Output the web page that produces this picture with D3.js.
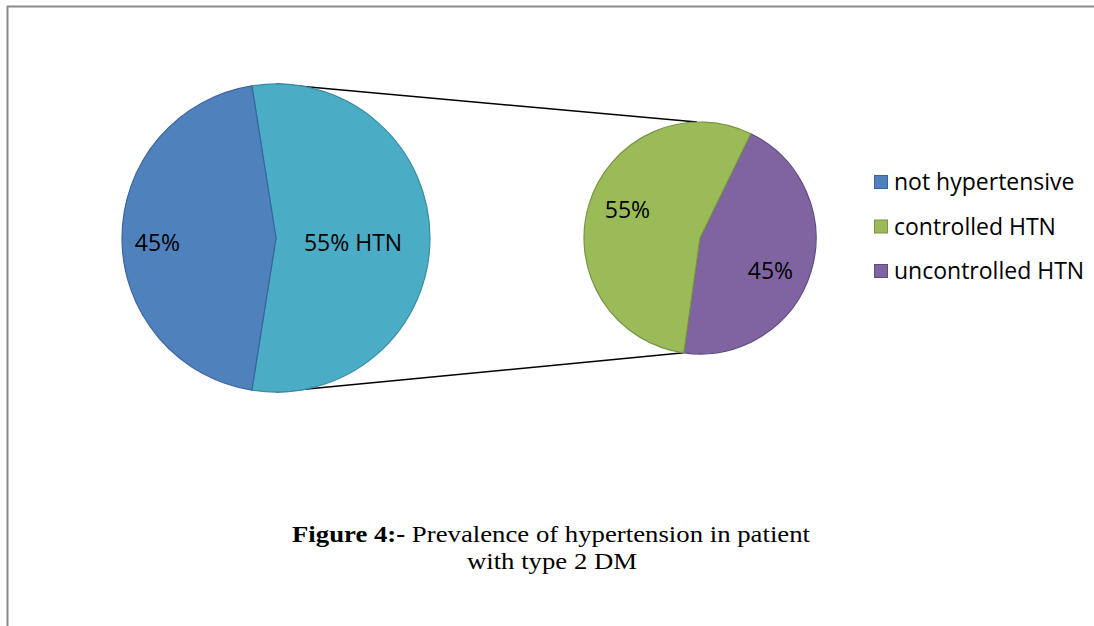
<!DOCTYPE html>
<html>
<head>
<meta charset="utf-8">
<script src="https://cdn.jsdelivr.net/npm/d3@7"></script>
<style>
  html, body { margin: 0; padding: 0; background: #fff; }
  svg { display: block; }
</style>
</head>
<body>
<svg id="chart" width="1094" height="626"></svg>
<script>
// Primary pie: share of patients with / without hypertension
const primaryLabels = ["HTN", "not hypertensive"];
const primaryValues = [55, 45];
const primaryText = ["55% HTN", "45%"];

// Secondary pie: breakdown of the hypertensive group
const secondaryLabels = ["uncontrolled HTN", "controlled HTN"];
const secondaryValues = [45, 55];
const secondaryText = ["45%", "55%"];

// Legend entries
const legendLabels = ["not hypertensive", "controlled HTN", "uncontrolled HTN"];

const colors = {
  "not hypertensive": "#4F81BD",
  "HTN": "#4BACC6",
  "controlled HTN": "#9BBB59",
  "uncontrolled HTN": "#8064A2"
};
const strokes = {
  "not hypertensive": "#3A64A0",
  "HTN": "#3A8CA4",
  "controlled HTN": "#7A9446",
  "uncontrolled HTN": "#5F4B7E"
};

const svg = d3.select("#chart");
const deg = Math.PI / 180;

// Frame lines along top and left
svg.append("line").attr("x1", 7).attr("x2", 1094).attr("y1", 6.5).attr("y2", 6.5)
  .attr("stroke", "#8a8a8a").attr("stroke-width", 2);
svg.append("line").attr("x1", 7.5).attr("x2", 7.5).attr("y1", 6).attr("y2", 626)
  .attr("stroke", "#8a8a8a").attr("stroke-width", 2);

const left = { cx: 276, cy: 238, r: 154 };
const right = { cx: 700, cy: 238, r: 116 };

// Primary pie: HTN slice centred on the right side
const htnSweep = primaryValues[0] / d3.sum(primaryValues) * 360;
const pieL = d3.pie().sort(null)
  .startAngle((90 - htnSweep / 2) * deg)
  .endAngle((90 - htnSweep / 2 + 360) * deg);
const arcsL = pieL(primaryValues);

const pieR = d3.pie().sort(null)
  .startAngle(26 * deg)
  .endAngle((26 + 360) * deg);
const arcsR = pieR(secondaryValues);

function pt(c, a, r) {
  return [c.cx + r * Math.sin(a), c.cy - r * Math.cos(a)];
}

// Connector lines between the pies (drawn beneath them)
const topA = pt(left, 0, left.r), topB = pt(right, -1.5 * deg, right.r);
const botA = pt(left, Math.PI, left.r), botB = pt(right, arcsR[0].endAngle, right.r);
svg.append("line").attr("x1", topA[0]).attr("y1", topA[1]).attr("x2", topB[0]).attr("y2", topB[1])
  .attr("stroke", "#000").attr("stroke-width", 1.5);
svg.append("line").attr("x1", botA[0]).attr("y1", botA[1]).attr("x2", botB[0]).attr("y2", botB[1])
  .attr("stroke", "#000").attr("stroke-width", 1.5);

const arcL = d3.arc().innerRadius(0).outerRadius(left.r);
const arcR = d3.arc().innerRadius(0).outerRadius(right.r);

const gL = svg.append("g").attr("transform", `translate(${left.cx},${left.cy})`);
gL.selectAll("path").data(arcsL).join("path")
  .attr("d", arcL)
  .attr("fill", (d, i) => colors[primaryLabels[i]])
  .attr("stroke", (d, i) => strokes[primaryLabels[i]])
  .attr("stroke-width", 1.2);

const gR = svg.append("g").attr("transform", `translate(${right.cx},${right.cy})`);
gR.selectAll("path").data(arcsR).join("path")
  .attr("d", arcR)
  .attr("fill", (d, i) => colors[secondaryLabels[i]])
  .attr("stroke", (d, i) => strokes[secondaryLabels[i]])
  .attr("stroke-width", 1.2);

const labelFont = "'Open Sans', Lato, sans-serif";
const labelSize = 23;

// Slice labels (radius as a fraction of the pie radius, plus a small angular nudge)
const leftLabelPos = [{ k: 0.5, nudge: 0 }, { k: 0.77, nudge: 0 }];
const rightLabelPos = [{ k: 0.67, nudge: 8 }, { k: 0.67, nudge: 4 }];

function labelTransform(d, pos, r, lift) {
  const a = (d.startAngle + d.endAngle) / 2 + pos.nudge * deg;
  const rr = r * pos.k;
  return `translate(${rr * Math.sin(a)},${-rr * Math.cos(a) + lift})`;
}

gL.selectAll("text").data(arcsL).join("text")
  .attr("transform", (d, i) => labelTransform(d, leftLabelPos[i], left.r, 5))
  .attr("text-anchor", "middle").attr("dy", "0.35em")
  .attr("font-family", labelFont).attr("font-size", labelSize).attr("fill", "#000")
  .text((d, i) => primaryText[i]);

gR.selectAll("text").data(arcsR).join("text")
  .attr("transform", (d, i) => labelTransform(d, rightLabelPos[i], right.r, 0))
  .attr("text-anchor", "middle").attr("dy", "0.35em")
  .attr("font-family", labelFont).attr("font-size", labelSize).attr("fill", "#000")
  .text((d, i) => secondaryText[i]);

// Legend
const legend = svg.append("g").attr("transform", "translate(874,175)");
const rows = legend.selectAll("g").data(legendLabels).join("g")
  .attr("transform", (d, i) => `translate(0,${i * 44.5})`);
rows.append("rect").attr("x", 0.5).attr("y", 0.5).attr("width", 13).attr("height", 13)
  .attr("fill", d => colors[d]).attr("stroke", d => strokes[d]).attr("stroke-width", 1);
rows.append("text").attr("x", 20).attr("y", 7).attr("dy", "0.35em")
  .attr("font-family", labelFont).attr("font-size", labelSize).attr("fill", "#000")
  .text(d => d);

// Caption (serif, slightly widened)
const serif = "'Liberation Serif', 'Times New Roman', serif";
const cap = svg.append("text").attr("transform", "translate(551,542) scale(1.115,1)")
  .attr("text-anchor", "middle")
  .attr("font-family", serif).attr("font-size", 24).attr("fill", "#000");
cap.append("tspan").attr("font-weight", "bold").text("Figure 4:-");
cap.append("tspan").text(" Prevalence of hypertension in patient");
svg.append("text").attr("transform", "translate(552,569) scale(1.115,1)")
  .attr("text-anchor", "middle")
  .attr("font-family", serif).attr("font-size", 24).attr("fill", "#000")
  .text("with type 2 DM");
</script>
</body>
</html>
